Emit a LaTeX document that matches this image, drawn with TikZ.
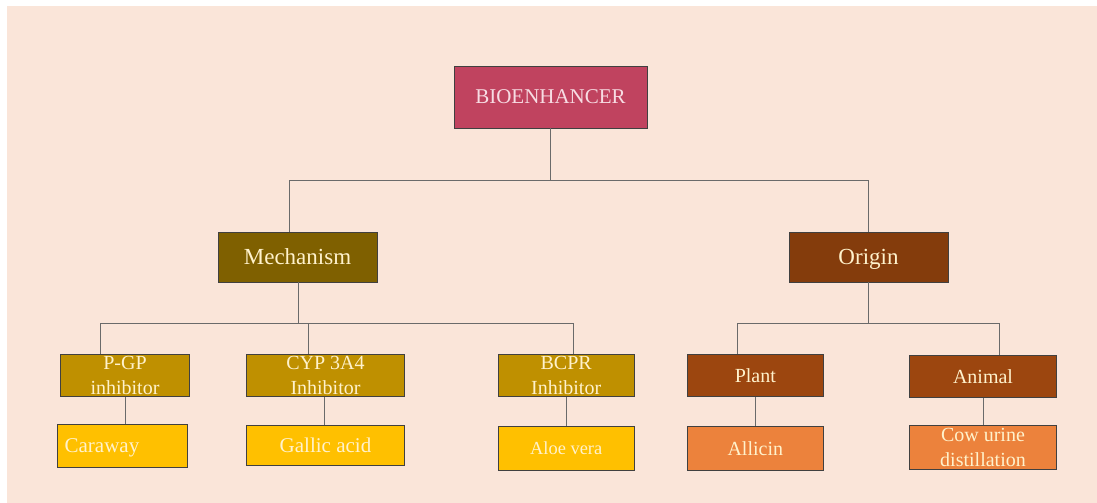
\documentclass[tikz,border=0pt]{standalone}
\usepackage{fontspec}
\setmainfont{Liberation Serif}
\usetikzlibrary{positioning}
\definecolor{peach}{HTML}{FAE5D9}
\definecolor{bioC}{HTML}{C0435F}
\definecolor{mechC}{HTML}{7F6000}
\definecolor{origC}{HTML}{843C0C}
\definecolor{midC}{HTML}{BF9000}
\definecolor{leafC}{HTML}{FFC000}
\definecolor{plantC}{HTML}{9C460F}
\definecolor{orgLeafC}{HTML}{EC823C}
\definecolor{txtC}{HTML}{FFF2CC}
\definecolor{bioTxt}{HTML}{F7DCE3}
\definecolor{edgeC}{HTML}{404040}
\definecolor{lineC}{HTML}{6A6A6A}
\tikzset{
  box/.style={draw=edgeC, line width=0.9pt, rectangle, inner sep=0pt, text=txtC, align=center},
  one/.style={text depth=0pt},
  conn/.style={draw=lineC, line width=0.9pt},
  fA/.style={font=\fontsize{21}{25}\selectfont},
  fB/.style={font=\fontsize{23}{27}\selectfont},
  fC/.style={font=\fontsize{20}{25}\selectfont},
}
\begin{document}
\begin{tikzpicture}[x=1pt,y=-1pt]
\useasboundingbox (0,0) rectangle (1097,503);
\fill[white] (0,0) rectangle (1097,503);
\fill[peach] (7,6) rectangle (1097,503);

\node[box,one,fA,fill=bioC,text=bioTxt,minimum width=193pt,minimum height=62pt] (bio) at (550.5,97) {BIOENHANCER};

\node[box,one,fB,fill=mechC,minimum width=159pt,minimum height=50pt] (mech) at (297.5,257) {Mechanism};
\node[box,one,fB,fill=origC,minimum width=159pt,minimum height=50pt] (orig) at (868.5,257) {Origin};

\node[box,fC,fill=midC,minimum width=129pt,minimum height=42.5pt] (pgp) at (125,375.5) {P-GP\\inhibitor};
\node[box,fC,fill=midC,minimum width=158.5pt,minimum height=42.5pt] (cyp) at (325.5,375.5) {CYP 3A4\\Inhibitor};
\node[box,fC,fill=midC,minimum width=135.5pt,minimum height=42.5pt] (bcpr) at (566.2,375.5) {BCPR\\Inhibitor};

\node[box,one,fA,fill=leafC,minimum width=129.7pt,minimum height=43.3pt,text width=115.7pt,align=left,inner xsep=7pt] (car) at (122.5,445.7) {Caraway};
\node[box,one,fA,fill=leafC,minimum width=158.5pt,minimum height=40pt] (gal) at (325.5,445.7) {Gallic acid};
\node[box,one,fill=leafC,font=\fontsize{18.4}{22}\selectfont,minimum width=135.5pt,minimum height=44pt] (aloe) at (566.2,448) {Aloe vera};

\node[box,one,fC,fill=plantC,minimum width=135.3pt,minimum height=42.4pt] (plant) at (755.3,375.5) {Plant};
\node[box,one,fC,fill=plantC,minimum width=147.4pt,minimum height=42.7pt] (animal) at (983,376.3) {Animal};

\node[box,one,fC,fill=orgLeafC,minimum width=135.3pt,minimum height=43.3pt] (all) at (755.3,448.3) {Allicin};
\node[box,fC,fill=orgLeafC,minimum width=147.4pt,minimum height=44.3pt] (cow) at (983,447.2) {Cow urine\\distillation};

% connectors
\draw[conn] (bio.south) -- +(0,52) -| ([xshift=-7.8pt]mech.north);
\draw[conn] (bio.south) -- +(0,52) -| (orig.north);

\draw[conn] ([xshift=0.8pt]mech.south) -- +(0,41) -| ([xshift=-24.5pt]pgp.north);
\draw[conn] ([xshift=0.8pt]mech.south) -- +(0,41) -| ([xshift=-17.5pt]cyp.north);
\draw[conn] ([xshift=0.8pt]mech.south) -- +(0,41) -| ([xshift=7.7pt]bcpr.north);

\draw[conn] (orig.south) -- +(0,41) -| ([xshift=-18pt]plant.north);
\draw[conn] (orig.south) -- +(0,41) -| ([xshift=16.3pt]animal.north);

\draw[conn] (pgp.south) -- (pgp.south |- car.north);
\draw[conn] ([xshift=-0.8pt]cyp.south) -- ([xshift=-0.8pt]cyp.south |- gal.north);
\draw[conn] (bcpr.south) -- (bcpr.south |- aloe.north);
\draw[conn] (plant.south) -- (all.north);
\draw[conn] (animal.south) -- (cow.north);
\end{tikzpicture}
\end{document}
